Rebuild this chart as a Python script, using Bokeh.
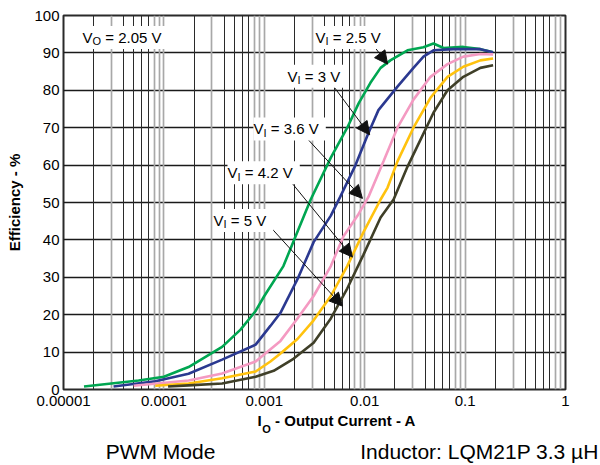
from bokeh.plotting import figure
from bokeh.models import (Range1d, FixedTicker, CustomJSTickFormatter, Grid,
                          Label, Arrow, NormalHead, LogAxis)
from bokeh.embed import file_html
from bokeh.resources import INLINE

# ---------------- data (output current in A, efficiency in %) ----------------
vi_25_current = [1.6e-5, 5.6e-5, 1.0e-4, 1.76e-4, 3.8e-4, 5.8e-4, 8.2e-4, 1.0e-3, 1.55e-3,
                 2.2e-3, 2.9e-3, 4.6e-3, 6.7e-3, 8.7e-3, 0.0114, 0.0144, 0.018, 0.0267,
                 0.0385, 0.0484, 0.061, 0.096, 0.142, 0.19]
vi_25_eff = [0.8, 2.4, 3.4, 6, 11.4, 16, 21, 25, 33, 43, 50.8, 62, 70, 76.5, 82, 86, 88,
             90.7, 91.5, 92.5, 91.3, 91.6, 91, 90.2]

vi_3_current = [3.15e-5, 8.2e-5, 1.76e-4, 3.8e-4, 8.2e-4, 1.15e-3, 1.45e-3, 2.14e-3, 3.1e-3,
                4.6e-3, 5.7e-3, 8.1e-3, 0.0109, 0.0137, 0.0212, 0.0306, 0.0385, 0.0484,
                0.0766, 0.142, 0.19]
vi_3_eff = [0.8, 2.2, 4.2, 8, 12, 17, 20.5, 29.5, 39.4, 46.5, 51.5, 60, 68.6, 74.7, 81, 86,
            89, 90.7, 91, 91, 90.2]

vi_36_current = [5e-5, 1.76e-4, 3.8e-4, 8.2e-4, 1.45e-3, 2.14e-3, 3.1e-3, 4.6e-3, 6.15e-3,
                 8.5e-3, 0.0109, 0.0154, 0.0212, 0.0306, 0.0452, 0.0668, 0.096, 0.142, 0.19]
vi_36_eff = [1, 2.4, 4.3, 7.5, 13, 19, 25, 33, 41, 46.5, 51.5, 61, 70, 77.5, 83.6, 87, 89,
             89.7, 89.6]

vi_42_current = [8.2e-5, 1.76e-4, 3.8e-4, 8.2e-4, 1.15e-3, 1.45e-3, 2.14e-3, 3.1e-3, 4.6e-3,
                 6.7e-3, 9.7e-3, 0.0144, 0.0169, 0.0212, 0.0306, 0.0452, 0.0668, 0.096,
                 0.142, 0.19]
vi_42_eff = [1, 1.6, 3, 4.8, 7.5, 9.6, 13.5, 18.5, 25, 33, 42, 50.8, 54, 61, 70, 78, 83.6,
             86.3, 88, 88.5]

vi_5_current = [1.1e-4, 1.76e-4, 3.8e-4, 8.2e-4, 1.24e-3, 1.95e-3, 3.1e-3, 4.6e-3, 6.7e-3,
                9.7e-3, 0.0144, 0.0194, 0.0267, 0.036, 0.0484, 0.0668, 0.096, 0.142, 0.19]
vi_5_eff = [0.8, 1.1, 1.6, 3.4, 5, 8.2, 12.5, 19, 27, 36, 46, 50.8, 59.6, 66.8, 74, 80, 83.6,
            86, 86.7]

x_ticks = [1e-5, 1e-4, 1e-3, 1e-2, 1e-1, 1]
y_ticks = [0, 10, 20, 30, 40, 50, 60, 70, 80, 90, 100]

series_labels = ["= 2.5 V", "= 3 V", "= 3.6 V", "= 4.2 V", "= 5 V"]
arrow_tail = [(0.01066, 94.1), (4.27e-3, 83.2), (2.14e-3, 69.9), (1.55e-3, 58.0), (9.8e-4, 45.5)]
arrow_tip = [(0.0169, 87.0), (0.0112, 68.1), (9.5e-3, 51.1), (7.55e-3, 35.4), (6.0e-3, 22.3)]

x_title_parts = ["I", "- Output Current - A"]
x_title_sub = ["O"]
footer_texts = ["PWM Mode", "Inductor: LQM21P 3.3 \u00b5H"]

# ---------------- layout ----------------
W, H = 600, 465
FL, FR, FT, FB = 63, 35, 15, 74
FW = W - FL - FR
FH = H - FT - FB
FONT = "Liberation Sans"


def dx(px):
    return 10 ** (-5 + 5.0 * (px - FL) / FW)


def dy(py):
    return 100.0 * (FT + FH - py) / FH


p = figure(width=W, height=H, x_axis_type="log", x_range=Range1d(1e-5, 1),
           y_range=Range1d(0, 100), output_backend="svg", toolbar_location=None,
           min_border_left=FL, min_border_right=FR, min_border_top=FT,
           min_border_bottom=FB)
p.background_fill_color = "white"
p.border_fill_color = "white"
p.outline_line_color = "#2a2a2a"
p.outline_line_width = 2

# grids
p.xgrid.visible = False
p.ygrid.ticker = FixedTicker(ticks=y_ticks)
p.ygrid.grid_line_color = "#1a1a1a"
p.ygrid.grid_line_width = 1.5

gray_ticks, black_ticks = [], []
for d in range(-5, 0):
    for m in range(2, 11):
        t = m * 10 ** d
        (black_ticks if m in (2, 4, 5, 6, 7) else gray_ticks).append(t)
p.add_layout(Grid(dimension=0, ticker=FixedTicker(ticks=gray_ticks),
                  grid_line_color="#a8a8a8", grid_line_width=1.7))
p.add_layout(Grid(dimension=0, ticker=FixedTicker(ticks=black_ticks),
                  grid_line_color="#2a2a2a", grid_line_width=1))


def style_axis(ax, size, bold=False, standoff=0):
    ax.axis_line_color = None
    ax.major_tick_line_color = None
    ax.minor_tick_line_color = None
    ax.major_tick_out = 0
    ax.major_tick_in = 0
    ax.minor_tick_out = 0
    ax.minor_tick_in = 0
    ax.major_label_text_font = FONT
    ax.major_label_text_font_size = f"{size}px"
    ax.major_label_text_font_style = "bold" if bold else "normal"
    ax.major_label_text_color = "black"
    ax.major_label_standoff = standoff


style_axis(p.xaxis[0], 15, standoff=6)
p.xaxis.ticker = FixedTicker(ticks=x_ticks)
p.xaxis.formatter = CustomJSTickFormatter(code="return tick.toString();")

style_axis(p.yaxis[0], 15, standoff=4)
p.yaxis.ticker = FixedTicker(ticks=y_ticks)
p.yaxis.axis_label = "Efficiency - %"
p.yaxis.axis_label_text_font = FONT
p.yaxis.axis_label_text_font_size = "15px"
p.yaxis.axis_label_text_font_style = "bold"
p.yaxis.axis_label_text_color = "black"
p.yaxis.axis_label_standoff = 8


def text_axis(texts, centers_px, size, bold, standoff):
    ax = LogAxis(ticker=FixedTicker(ticks=[dx(c) for c in centers_px]),
                 formatter=CustomJSTickFormatter(args=dict(labels=texts),
                                                 code="return labels[index];"))
    style_axis(ax, size, bold=bold, standoff=standoff)
    p.add_layout(ax, "below")


# x-axis title (with subscript) and footer rows
text_axis(x_title_parts, [259, 345], 15, True, 3)
text_axis(x_title_sub, [266], 11, True, -9)
text_axis(footer_texts, [160, 479], 21, False, 2)

# curves
curves = [
    (vi_25_current, vi_25_eff, "#00a651"),
    (vi_3_current, vi_3_eff, "#2b3990"),
    (vi_36_current, vi_36_eff, "#f49ac2"),
    (vi_42_current, vi_42_eff, "#ffc20e"),
    (vi_5_current, vi_5_eff, "#3f3f28"),
]
for xs, ys, c in curves:
    p.line(xs, ys, line_color=c, line_width=2.6)


def label(text, px, py, size=15, xo=0, yo=0, color="black", bg=None):
    kw = {}
    if bg is not None:
        kw = dict(background_fill_color=bg, padding=3)
    p.add_layout(Label(x=dx(px), y=dy(py), text=text, x_offset=xo, y_offset=yo,
                       text_font=FONT, text_font_size=f"{size}px",
                       text_color=color, text_align="left",
                       text_baseline="alphabetic", **kw))


def sub_label(main, sub, rest, px, py, sub_w):
    label(main + sub + " " + rest, px, py, color="white", bg="white")
    label(main, px, py)
    label(sub, px, py, size=11, xo=10.0, yo=-4)
    label(rest, px, py, xo=10.0 + sub_w + 4.2)


# arrows
for (x0, y0), (x1, y1) in zip(arrow_tail, arrow_tip):
    p.add_layout(Arrow(x_start=x0, y_start=y0, x_end=x1, y_end=y1,
                       line_color="#111111", line_width=1,
                       end=NormalHead(size=13, fill_color="#111111",
                                      line_color="#111111", line_width=1)))

# annotation texts (left, baseline in pixels)
label_pos = [(315, 37), (287, 76), (253, 129), (227, 173), (213, 221)]
sub_label("V", "O", "= 2.05 V", 82, 37, 8.6)
for rest, (px, py) in zip(series_labels, label_pos):
    sub_label("V", "I", rest, px, py, 3.1)

open("out.html", "w").write(file_html(p, INLINE))
